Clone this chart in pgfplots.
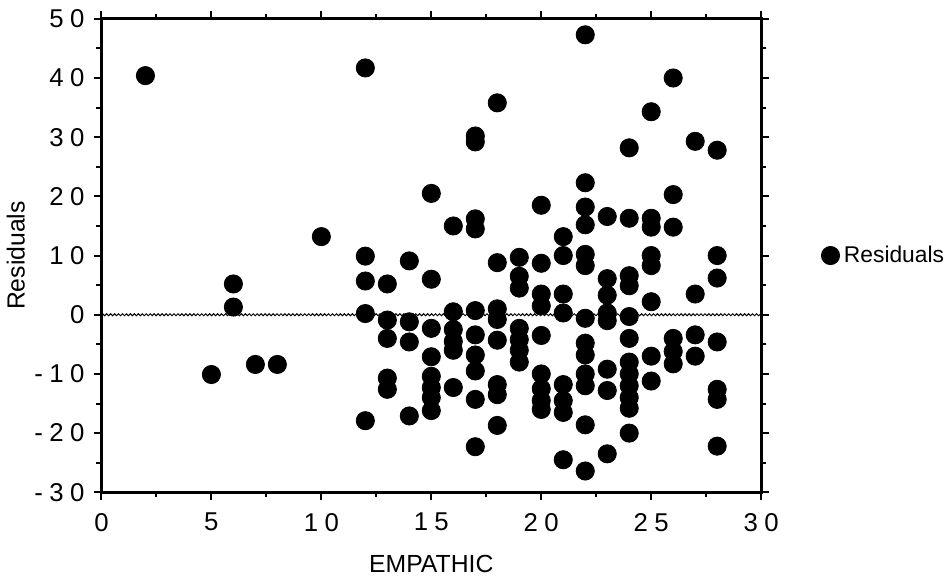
\documentclass[border=0pt]{standalone}
\usepackage{fontspec}
\setmainfont{Liberation Sans}
\usepackage{pgfplots}
\pgfplotsset{compat=1.18}
\usetikzlibrary{decorations.pathmorphing}
\begin{document}
\begin{tikzpicture}
\begin{axis}[
  scale only axis, width=333pt, height=239pt,
  xmin=0, xmax=30, ymin=-30, ymax=50,
  xtick={0,5,...,30}, ytick={-30,-20,...,50},
  minor x tick num=1, minor y tick num=1,
  tick align=outside,
  major tick length=4pt, minor tick length=2.5pt,
  axis line style={line width=1.4pt},
  every tick/.style={line width=1pt, black},
  /pgf/number format/assume math mode=true,
  ticklabel style={font=\fontsize{13}{15}\selectfont\addfontfeature{LetterSpace=25}},
  xticklabel style={yshift=-3pt},
  yticklabel style={xshift=-1pt},
  xlabel={EMPATHIC}, ylabel={Residuals},
  label style={font=\fontsize{12.5}{14}\selectfont},
  xlabel style={yshift=-5pt},
  ylabel style={yshift=-2pt},
  legend style={draw=none, fill=none, at={(1,0.5)}, anchor=west, xshift=30pt,
    font=\fontsize{11.5}{13}\selectfont, inner sep=0pt},
  legend image code/.code={\fill[black] (4.6pt,0pt) circle (4.6pt);},
  legend cell align=left,
]
\addplot[black, line width=0.5pt, decorate,
  decoration={snake, amplitude=0.5pt, segment length=2pt}, forget plot]
  coordinates {(0,0) (30,0)};
\addplot[only marks, mark=*, mark size=4.6pt, black] table {
x y
2 40.4
5 -10.1
6 5.2
6 1.3
7 -8.4
8 -8.4
10 13.2
12 41.7
12 9.9
12 5.7
12 0.2
12 -17.9
13 5.2
13 -0.9
13 -4.0
13 -10.7
13 -12.6
14 9.1
14 -1.2
14 -4.6
14 -17.1
15 20.5
15 6.0
15 -2.3
15 -7.1
15 -10.4
15 -12.3
15 -14.0
15 -16.2
16 15.0
16 0.5
16 -2.5
16 -4.5
16 -6.0
16 -12.3
17 30.2
17 29.2
17 16.2
17 14.5
17 0.7
17 -3.4
17 -6.8
17 -9.5
17 -14.3
17 -22.3
18 35.8
18 8.8
18 1.0
18 -0.8
18 -4.3
18 -11.8
18 -13.5
18 -18.7
19 9.7
19 6.5
19 4.5
19 -2.3
19 -4.2
19 -6.0
19 -8.0
20 18.5
20 8.7
20 3.5
20 1.5
20 -3.5
20 -10.0
20 -12.5
20 -14.5
20 -16.0
21 13.2
21 10.0
21 3.5
21 0.3
21 -11.8
21 -14.5
21 -16.5
21 -24.5
22 47.3
22 22.3
22 18.2
22 15.2
22 10.2
22 8.3
22 -0.6
22 -4.8
22 -6.8
22 -10.0
22 -12.0
22 -18.6
22 -26.4
23 16.6
23 6.1
23 3.3
23 0.3
23 -1.0
23 -9.2
23 -12.8
23 -23.5
24 28.2
24 16.3
24 6.6
24 4.9
24 -0.3
24 -4.0
24 -8.0
24 -10.0
24 -12.0
24 -14.0
24 -15.8
24 -20.0
25 34.3
25 16.3
25 14.8
25 10.0
25 8.3
25 2.2
25 -7.0
25 -11.2
26 40.0
26 20.3
26 14.8
26 -4.0
26 -6.2
26 -8.3
27 29.3
27 3.5
27 -3.4
27 -7.0
28 27.8
28 10.0
28 6.2
28 -4.6
28 -12.6
28 -14.3
28 -22.2
};
\addlegendentry{Residuals}
\end{axis}
\path ([xshift=-48.5pt,yshift=-41pt]current axis.south west)
  rectangle ([xshift=92.5pt,yshift=9.5pt]current axis.north east);
\end{tikzpicture}
\end{document}
